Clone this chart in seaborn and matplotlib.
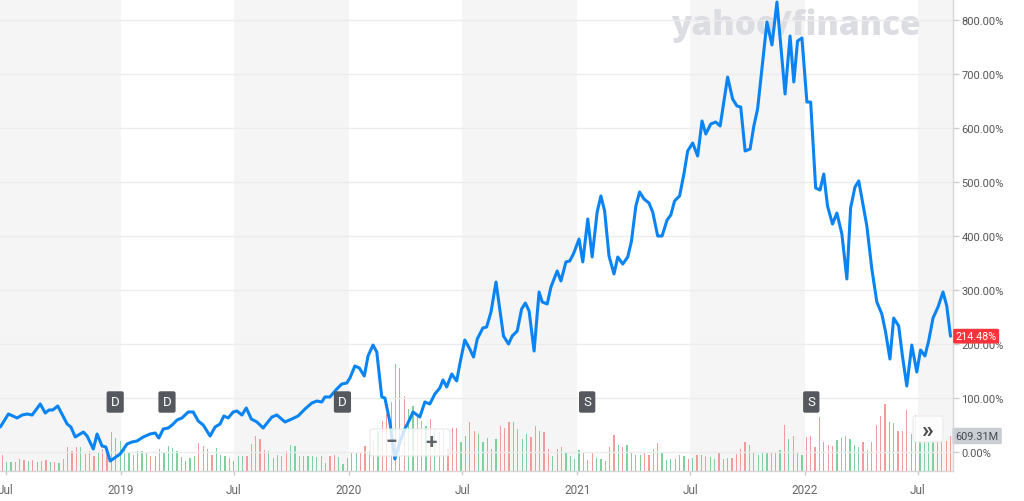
import matplotlib
matplotlib.use("Agg")
import matplotlib.pyplot as plt
import matplotlib.dates as mdates
import matplotlib.transforms as mtransforms
from matplotlib.patches import FancyBboxPatch
import seaborn as sns
import pandas as pd

# ---------------- data ----------------
line_dates = [
    "2018-06-22", "2018-07-05", "2018-07-19", "2018-07-27", "2018-08-04", "2018-08-12", "2018-08-25",
    "2018-09-02", "2018-09-08", "2018-09-14", "2018-09-22", "2018-10-07", "2018-10-13", "2018-10-20",
    "2018-11-02", "2018-11-08", "2018-11-18", "2018-11-24", "2018-12-02", "2018-12-08", "2018-12-15",
    "2018-12-31",
    "2019-01-11", "2019-01-19", "2019-01-27", "2019-02-06", "2019-02-17", "2019-02-25", "2019-03-03",
    "2019-03-10", "2019-03-18", "2019-03-26", "2019-04-01", "2019-04-09", "2019-04-19", "2019-04-27",
    "2019-05-05", "2019-05-13", "2019-05-24", "2019-06-01", "2019-06-09", "2019-06-15", "2019-06-22",
    "2019-06-30", "2019-07-06", "2019-07-14", "2019-07-21", "2019-07-29", "2019-08-07", "2019-08-17",
    "2019-08-31", "2019-09-08", "2019-09-21", "2019-10-02", "2019-10-12", "2019-10-23", "2019-11-03",
    "2019-11-11", "2019-11-19", "2019-11-24", "2019-12-02", "2019-12-13", "2019-12-21", "2019-12-29",
    "2020-01-03", "2020-01-11", "2020-01-18", "2020-01-26", "2020-02-01", "2020-02-09", "2020-02-15",
    "2020-02-23", "2020-02-28", "2020-03-07", "2020-03-15", "2020-03-23", "2020-03-31", "2020-04-08",
    "2020-04-13", "2020-04-24", "2020-05-02", "2020-05-10", "2020-05-18", "2020-05-26", "2020-05-31",
    "2020-06-06", "2020-06-14", "2020-06-22", "2020-06-28", "2020-07-05", "2020-07-13", "2020-07-19",
    "2020-07-25", "2020-08-03", "2020-08-09", "2020-08-16", "2020-08-24", "2020-08-30", "2020-09-05",
    "2020-09-13", "2020-09-19", "2020-09-27", "2020-10-04", "2020-10-10", "2020-10-16", "2020-10-24",
    "2020-11-01", "2020-11-06", "2020-11-14", "2020-11-20", "2020-11-30", "2020-12-06", "2020-12-14",
    "2020-12-20", "2020-12-26",
    "2021-01-04", "2021-01-10", "2021-01-18", "2021-01-25", "2021-02-02", "2021-02-08", "2021-02-14",
    "2021-02-21", "2021-03-01", "2021-03-07", "2021-03-15", "2021-03-23", "2021-03-29", "2021-04-05",
    "2021-04-11", "2021-04-18", "2021-04-26", "2021-05-02", "2021-05-10", "2021-05-17", "2021-05-25",
    "2021-05-31", "2021-06-06", "2021-06-14", "2021-06-21", "2021-06-27", "2021-07-05", "2021-07-13",
    "2021-07-20", "2021-07-26", "2021-08-03", "2021-08-11", "2021-08-18", "2021-08-30", "2021-09-07",
    "2021-09-14", "2021-09-20", "2021-09-27", "2021-10-05", "2021-10-11", "2021-10-17", "2021-11-01",
    "2021-11-09", "2021-11-17", "2021-11-30", "2021-12-08", "2021-12-14", "2021-12-20", "2021-12-27",
    "2022-01-04", "2022-01-10", "2022-01-18", "2022-01-25", "2022-01-31", "2022-02-06", "2022-02-14",
    "2022-02-21", "2022-03-01", "2022-03-09", "2022-03-15", "2022-03-22", "2022-03-28", "2022-04-10",
    "2022-04-18", "2022-04-26", "2022-05-04", "2022-05-10", "2022-05-17", "2022-05-23", "2022-05-31",
    "2022-06-06", "2022-06-13", "2022-06-21", "2022-06-29", "2022-07-05", "2022-07-12", "2022-07-18",
    "2022-07-25", "2022-08-02", "2022-08-10", "2022-08-16", "2022-08-22",
]
line_pct = [
    46.3, 70.4, 63.0, 68.5, 70.4, 68.5, 88.9,
    72.2, 77.8, 77.8, 85.2, 51.9, 46.3, 27.8,
    37.0, 29.6, 5.6, 33.3, 11.1, 9.3, -16.7,
    -3.7,
    14.8, 18.5, 20.4, 27.8, 33.3, 35.2, 25.9,
    42.6, 44.4, 51.9, 59.3, 63.0, 74.1, 74.1,
    57.4, 50.0, 29.6, 46.3, 51.9, 66.7, 63.0,
    74.1, 75.9, 68.5, 81.5, 61.1, 55.6, 44.4,
    64.8, 68.5, 55.6, 61.1, 66.7, 79.6, 90.7,
    94.4, 92.6, 101.9, 101.9, 116.7, 125.9, 127.8,
    137.0, 159.3, 155.6, 140.7, 177.8, 198.1, 185.2,
    101.9, 100.0, 55.6, -13.0, 18.5, 42.6, 61.1,
    74.1, 64.8, 92.6, 88.9, 107.4, 118.5, 133.3,
    120.4, 144.4, 131.5, 168.5, 207.4, 190.7, 175.9,
    209.3, 229.6, 231.5, 259.3, 314.8, 264.8, 214.8,
    200.0, 214.8, 224.1, 264.8, 275.9, 261.1, 187.0,
    296.3, 277.8, 274.1, 305.6, 335.2, 316.7, 351.9,
    353.7, 366.7,
    394.4, 351.9, 431.5, 361.1, 444.4, 474.1, 446.3,
    363.0, 329.6, 361.1, 348.1, 361.1, 390.7, 455.6,
    481.5, 468.5, 461.1, 444.4, 400.0, 400.0, 429.6,
    438.9, 464.8, 474.1, 514.8, 557.4, 572.2, 548.1,
    613.0, 588.9, 607.4, 611.1, 603.7, 694.4, 653.7,
    640.7, 638.9, 557.4, 561.1, 603.7, 635.2, 796.3,
    753.7, 833.3, 663.0, 770.4, 685.2, 761.1, 766.7,
    648.1, 648.1, 488.9, 485.2, 514.8, 455.6, 422.2,
    442.6, 403.7, 320.4, 451.9, 490.7, 501.9, 418.5,
    338.9, 277.8, 255.6, 222.2, 172.2, 248.1, 233.3,
    177.8, 122.2, 198.1, 148.1, 188.9, 177.8, 205.6,
    248.1, 268.5, 296.3, 270.4, 214.48,
]

# weekly volume (millions) and up(g)/down(r) direction
vol_m = [
    278, 151, 162, 151, 209, 191, 179, 191, 162, 169, 191, 162, 151, 139, 209, 412, 353, 412, 412, 296,
    353, 266, 325, 383, 383, 673, 569, 527, 412, 325, 278, 353, 353, 336, 266, 266, 383, 336, 440, 395,
    353, 238, 179, 221, 256, 487, 430, 383, 278, 395, 278, 266, 221, 179, 266, 266, 266, 470, 604, 557,
    371, 353, 221, 278, 266, 353, 452, 440, 266, 266, 256, 256, 238, 266, 139, 266, 278, 238, 117,
    226, 331, 313, 313, 435, 348, 522, 696, 870, 992, 1200, 1862, 1792, 1305, 1079, 1131, 940, 870, 783, 905,
    731, 679, 731, 383, 748, 748, 505, 609, 853, 696, 644, 505, 574, 383, 557, 783, 748, 853, 853, 731,
    557, 644, 592, 783, 696, 679, 383, 261, 383, 418, 331, 261, 209, 365, 313, 191, 331, 226, 209, 174,
    418, 626, 452, 418, 452, 313, 278, 278, 331, 278, 383, 487, 331, 191, 209, 209, 278, 261, 209,
    226, 278, 278, 261, 244, 209, 331, 209, 226, 226, 296, 383, 505, 452, 331, 278, 331, 331, 331, 313,
    365, 800, 557, 609, 331, 278, 592, 609, 418, 940, 505, 452, 435, 539, 574, 609, 557, 452, 418, 505,
    365, 505, 800, 957, 1166, 853, 835, 696, 696, 1061, 644, 974, 522, 522, 522, 522, 522, 557, 522, 609.31,
]
vol_dir = list(
    "rggrgrgrgr" "rgrgrrrrgr" "rrgrrrgggg" "rgggrgrggg" "gggggrrrrg" "ggrgggrrrr" "rgggrrgggg" "gggggrrgg"
    "gggrrgrgrr" "rrgrggrrgr" "grgrrrggrr" "gggggrrrgg" "ggrrgrrggr" "ggggrgrggr" "rrgrggggrr" "rrggggggr"
    "grgrggrggr" "rrrgggggrg" "grgrggrrrr" "grrgrrgggr" "rrrrrggrrr" "grgggggrr"
)
vol_end = "2022-08-22"

shade_periods = [
    ("2018-06-01", "2019-01-01"), ("2019-07-01", "2020-01-01"), ("2020-07-01", "2021-01-01"),
    ("2021-07-01", "2022-01-01"), ("2022-07-01", "2022-09-30"),
]
tick_dates = ["2018-07-01", "2019-01-01", "2019-07-01", "2020-01-01", "2020-07-01",
              "2021-01-01", "2021-07-01", "2022-01-01", "2022-07-01"]
tick_labels = ["Jul", "2019", "Jul", "2020", "Jul", "2021", "Jul", "2022", "Jul"]
y_ticks = [0, 100, 200, 300, 400, 500, 600, 700, 800]

event_dates = ["2018-12-23", "2019-03-16", "2019-12-22", "2021-01-17", "2022-01-11"]
event_labels = ["D", "D", "D", "S", "S"]

last_pct_label = "214.48%"
last_vol_label = "609.31M"

# ---------------- drawing ----------------
sns.set_theme(style="white")
plt.rcParams["font.family"] = ["Roboto", "DejaVu Sans"]

W, H = 1024, 502
fig = plt.figure(figsize=(W / 100, H / 100), dpi=100)
ax = fig.add_axes([0, 30 / H, 953 / W, 472 / H])
axv = ax.twinx()
axv.set_zorder(ax.get_zorder() - 1)
ax.patch.set_visible(False)
axv.patch.set_visible(True)
axv.patch.set_facecolor("white")

# half-year shading
for s, e in shade_periods:
    axv.axvspan(mdates.date2num(pd.Timestamp(s)), mdates.date2num(pd.Timestamp(e)),
                color="#f5f5f5", lw=0, zorder=0)

# volume bars
vol_dates = pd.date_range(end=vol_end, periods=len(vol_m), freq="7D")
bar_colors = ["#7dd19e" if d == "g" else "#f59a9a" for d in vol_dir]
axv.bar(vol_dates, vol_m, width=2.0, color=bar_colors, zorder=2, linewidth=0)
axv.set_ylim(0, 472 * 17.4)
axv.set_yticks([])
for sp in axv.spines.values():
    sp.set_visible(False)

# watermark (behind the line)
axv.text(671 / W, 1 - 26 / H, "yahoo/finance", transform=fig.transFigure, ha="left", va="center",
         fontsize=24, fontweight="heavy", color="#dcdde2", family=["Open Sans", "DejaVu Sans"], zorder=1)

# price line
df = pd.DataFrame({"date": pd.to_datetime(line_dates), "pct": line_pct})
sns.lineplot(data=df, x="date", y="pct", ax=ax, color="#0b84f3", linewidth=2.2,
             estimator=None, sort=False, zorder=5)
ax.set_xlabel("")
ax.set_ylabel("")

ax.set_ylim(-35.2, 838.9)
ax.set_xlim(mdates.date2num(pd.Timestamp("2018-06-21 12:00")),
            mdates.date2num(pd.Timestamp("2022-08-26")))

ax.yaxis.tick_right()
ax.set_yticks(y_ticks)
ax.yaxis.set_major_formatter(plt.FuncFormatter(lambda v, p: f"{v:.2f}%"))
ax.yaxis.grid(True, color="#ececec", lw=1)
ax.xaxis.grid(False)
ax.set_axisbelow(True)
ax.tick_params(axis="y", right=True, left=False, length=4, width=1, color="#cccccc",
               labelsize=8, labelcolor="#555555", pad=2)

ax.set_xticks(pd.to_datetime(tick_dates))
ax.set_xticklabels(tick_labels)
ax.tick_params(axis="x", bottom=True, length=3, width=1, color="#cccccc",
               labelsize=8.5, labelcolor="#666666", pad=6)

for name, sp in ax.spines.items():
    sp.set_visible(name in ("right", "bottom"))
    sp.set_color("#d6d6d6")
    sp.set_linewidth(1)

# event markers
trans_ev = mtransforms.blended_transform_factory(ax.transData, ax.transAxes)
for d, lab in zip(event_dates, event_labels):
    ax.text(mdates.date2num(pd.Timestamp(d)), (472 - 403) / 472, lab, transform=trans_ev,
            ha="center", va="center", color="white", fontsize=9.5, zorder=6,
            bbox=dict(boxstyle="round,pad=0.32,rounding_size=0.15", fc="#55595f", ec="none"))

# last value labels
trans_p = mtransforms.blended_transform_factory(ax.transAxes, ax.transData)
ax.text(1.0 + 2.5 / 953, line_pct[-1], last_pct_label, transform=trans_p, ha="left", va="center",
        fontsize=7.8, color="white", zorder=10, clip_on=False,
        bbox=dict(boxstyle="round,pad=0.22,rounding_size=0.15", fc="#ff333a", ec="none"))
trans_v = mtransforms.blended_transform_factory(axv.transAxes, axv.transData)
axv.text(1.0 + 2.5 / 953, vol_m[-1], last_vol_label, transform=trans_v, ha="left", va="center",
         fontsize=7.8, color="#444a52", zorder=10, clip_on=False,
         bbox=dict(boxstyle="round,pad=0.3,rounding_size=0.15", fc="#c9cdd4", ec="none"))

# zoom buttons overlay
fig.add_artist(FancyBboxPatch((370 / W, (H - 457) / H), 80 / W, 27 / H,
                              boxstyle="round,pad=0,rounding_size=0.004", transform=fig.transFigure,
                              fc="white", ec="#e8e8e8", alpha=0.8, lw=1, zorder=20))
fig.text(391 / W, 1 - 443 / H, "\u2212", ha="center", va="center", fontsize=15, fontweight="bold",
         color="#5f6368", zorder=21)
fig.text(431 / W, 1 - 443 / H, "+", ha="center", va="center", fontsize=15, fontweight="bold",
         color="#5f6368", zorder=21)
fig.add_artist(FancyBboxPatch((913 / W, (H - 443) / H), 30 / W, 26 / H,
                              boxstyle="round,pad=0,rounding_size=0.004", transform=fig.transFigure,
                              fc="white", ec="#ececec", alpha=0.85, lw=1, zorder=20))
fig.text(928 / W, 1 - 431 / H, "\u00bb", ha="center", va="center", fontsize=17, fontweight="bold",
         color="#4a4a4a", zorder=21)

fig.savefig("out.png", dpi=100)
